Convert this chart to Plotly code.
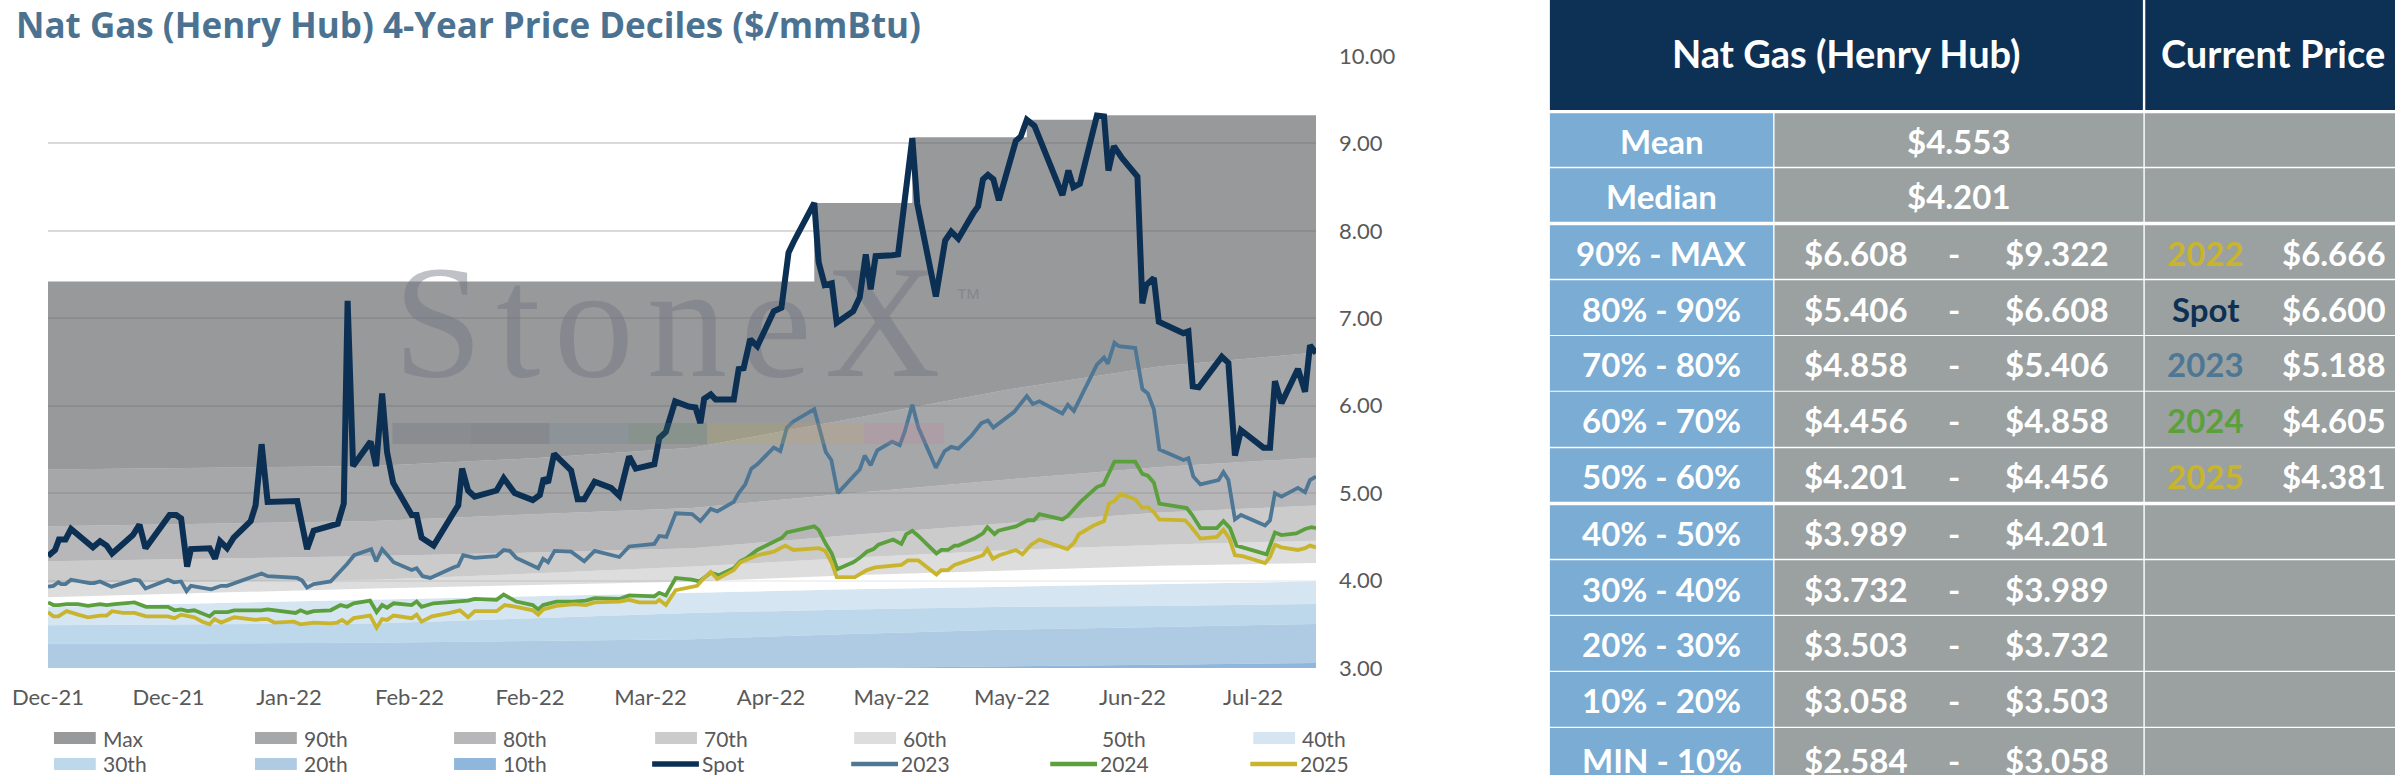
import pandas as pd
import plotly.graph_objects as go

# ---------------- DATA ----------------
BASE = pd.Timestamp("2021-12-01")

tick_days = [0, 22, 44, 66, 88, 110, 132, 154, 176, 198, 220]
tick_labels = ["Dec-21", "Dec-21", "Jan-22", "Feb-22", "Feb-22", "Mar-22",
               "Apr-22", "May-22", "May-22", "Jun-22", "Jul-22"]
end_day = 231.5

spot_days = [0.0, 1.3, 2.0, 3.2, 4.2, 8.2, 9.5, 10.7, 11.7, 15.5,
             16.7, 17.8, 22.2, 23.4, 24.3, 25.4, 26.1, 29.5, 30.5, 31.4,
             32.7, 33.9, 37.0, 37.9, 39.0, 40.1, 45.5, 47.3, 48.5, 51.6,
             52.9, 54.0, 54.7, 55.7, 58.9, 59.9, 61.0, 61.9, 63.0, 66.4,
             67.3, 68.2, 70.4, 74.0, 74.9, 75.6, 76.7, 77.9, 81.9, 83.2,
             85.2, 88.5, 89.8, 90.5, 91.3, 92.4, 95.5, 96.7, 97.9, 99.8,
             102.8, 104.3, 106.1, 107.3, 110.7, 111.6, 112.8, 114.5, 117.0, 118.2,
             119.1, 119.8, 121.0, 121.9, 125.2, 126.1, 127.0, 128.2, 129.5, 132.5,
             133.9, 135.2, 136.1, 139.9, 140.7, 141.8, 143.1, 144.0, 147.0, 148.2,
             149.3, 150.2, 151.1, 154.1, 155.2, 157.8, 158.7, 162.1, 163.8, 164.9,
             166.2, 168.9, 169.8, 170.7, 171.6, 172.6, 173.6, 176.7, 177.6, 178.7,
             180.1, 185.2, 186.3, 187.2, 188.4, 191.5, 192.8, 193.6, 194.6, 196.1,
             198.9, 199.8, 200.5, 201.9, 202.8, 207.3, 208.2, 209.0, 210.1, 214.3,
             215.5, 216.7, 217.8, 221.9, 223.1, 224.0, 225.2, 228.2, 229.5, 230.4,
             231.5]
spot_vals = [4.28, 4.35, 4.47, 4.47, 4.59, 4.38, 4.45, 4.40, 4.31, 4.52,
             4.64, 4.37, 4.75, 4.75, 4.71, 4.16, 4.36, 4.37, 4.25, 4.45,
             4.37, 4.49, 4.68, 4.86, 5.56, 4.90, 4.91, 4.36, 4.57, 4.62,
             4.65, 4.88, 7.20, 5.31, 5.59, 5.31, 6.14, 5.47, 5.12, 4.75,
             4.75, 4.49, 4.40, 4.77, 4.86, 5.28, 5.03, 4.96, 5.03, 5.17,
             5.00, 4.92, 4.98, 5.17, 5.12, 5.45, 5.26, 4.93, 4.93, 5.13,
             5.06, 4.97, 5.42, 5.28, 5.33, 5.63, 5.70, 6.05, 5.99, 5.98,
             5.80, 6.08, 6.13, 6.07, 6.07, 6.42, 6.43, 6.76, 6.68, 7.08,
             7.12, 7.75, 7.87, 8.32, 7.64, 7.38, 7.40, 6.95, 7.08, 7.24,
             7.73, 7.33, 7.71, 7.72, 7.73, 9.06, 8.31, 7.25, 7.89, 7.99,
             7.91, 8.20, 8.28, 8.59, 8.64, 8.59, 8.35, 9.03, 9.08, 9.27,
             9.20, 8.41, 8.69, 8.50, 8.54, 9.32, 9.31, 8.69, 8.97, 8.83,
             8.62, 7.17, 7.38, 7.46, 6.96, 6.83, 6.85, 6.22, 6.21, 6.56,
             6.49, 5.43, 5.72, 5.52, 5.52, 6.28, 6.03, 6.42, 6.16, 6.69,
             6.60]

y2023_days = [0.0, 1.0, 1.9, 2.4, 3.2, 4.2, 7.6, 8.4, 9.5, 11.6,
              15.8, 16.7, 17.8, 21.9, 23.0, 24.3, 25.3, 26.1, 29.8, 31.6,
              32.7, 37.9, 39.0, 40.1, 45.5, 46.4, 47.3, 48.5, 51.6, 54.6,
              55.9, 59.0, 59.9, 61.0, 63.1, 66.4, 67.3, 68.4, 69.8, 74.0,
              74.9, 75.8, 77.9, 81.9, 83.2, 84.3, 85.5, 89.5, 90.4, 91.3,
              92.5, 95.5, 97.9, 99.8, 104.3, 106.1, 107.9, 110.7, 111.6, 112.9,
              114.6, 117.6, 119.1, 121.0, 122.2, 125.2, 126.1, 127.3, 128.4, 129.5,
              132.5, 133.7, 134.9, 136.1, 139.9, 141.0, 142.0, 143.0, 144.2, 147.0,
              148.2, 149.1, 150.2, 151.4, 154.1, 155.5, 156.4, 157.8, 158.9, 162.1,
              163.7, 164.9, 166.2, 168.5, 170.4, 171.6, 172.6, 176.4, 178.7, 179.8,
              181.0, 185.2, 186.2, 187.3, 191.5, 192.8, 193.5, 194.7, 195.5, 198.5,
              199.8, 200.8, 201.9, 202.9, 207.3, 208.2, 209.1, 210.4, 213.7, 214.6,
              215.5, 216.7, 217.8, 222.2, 223.1, 224.0, 225.2, 228.2, 229.5, 230.4,
              231.5]
y2023_vals = [3.93, 3.94, 3.98, 3.96, 3.96, 4.01, 3.97, 3.97, 3.99, 3.93,
              4.01, 4.00, 3.91, 4.01, 3.98, 3.99, 3.88, 3.94, 3.90, 3.94,
              3.94, 4.06, 4.08, 4.05, 4.03, 4.00, 3.92, 3.96, 3.99, 4.19,
              4.29, 4.36, 4.22, 4.36, 4.21, 4.12, 4.14, 4.05, 4.03, 4.15,
              4.17, 4.29, 4.26, 4.28, 4.35, 4.34, 4.26, 4.14, 4.25, 4.21,
              4.34, 4.33, 4.22, 4.34, 4.27, 4.39, 4.40, 4.42, 4.51, 4.50,
              4.77, 4.76, 4.68, 4.82, 4.79, 4.90, 5.00, 5.10, 5.28, 5.33,
              5.52, 5.48, 5.75, 5.82, 5.96, 5.70, 5.47, 5.38, 5.00, 5.19,
              5.27, 5.43, 5.32, 5.49, 5.59, 5.55, 5.70, 6.01, 5.75, 5.29,
              5.48, 5.53, 5.51, 5.65, 5.80, 5.83, 5.75, 5.93, 6.11, 6.02,
              6.05, 5.91, 6.01, 5.94, 6.47, 6.55, 6.48, 6.72, 6.68, 6.66,
              6.19, 6.14, 5.96, 5.50, 5.38, 5.40, 5.19, 5.10, 5.15, 5.24,
              5.15, 4.70, 4.75, 4.63, 4.69, 5.00, 4.96, 5.06, 5.01, 5.15,
              5.19]

y2024_days = [0.0, 1.0, 1.9, 3.4, 5.5, 7.3, 9.5, 10.7, 12.2, 15.8,
              17.9, 21.9, 23.1, 24.3, 25.5, 26.7, 29.5, 30.4, 32.8, 34.0,
              38.9, 40.1, 45.2, 46.1, 47.3, 48.5, 51.6, 53.4, 54.6, 55.8,
              58.8, 60.0, 61.0, 61.9, 63.1, 66.4, 67.3, 68.2, 70.4, 74.0,
              76.7, 77.9, 81.9, 83.2, 85.5, 88.5, 89.5, 90.4, 92.8, 95.8,
              98.2, 99.8, 104.3, 106.1, 110.7, 111.6, 112.8, 114.6, 117.6, 118.9,
              119.8, 121.0, 122.5, 125.2, 126.4, 127.6, 129.5, 132.5, 134.0, 134.9,
              137.0, 139.9, 140.7, 142.0, 143.1, 144.1, 147.0, 148.2, 149.5, 150.7,
              151.6, 154.3, 155.8, 156.7, 157.8, 158.9, 162.2, 163.1, 164.3, 165.5,
              166.2, 169.1, 170.7, 171.5, 172.8, 173.5, 176.7, 178.9, 180.0, 181.0,
              185.2, 186.2, 188.5, 191.5, 192.7, 194.7, 198.5, 199.8, 200.8, 201.9,
              202.9, 207.9, 208.9, 210.4, 213.4, 214.6, 215.8, 217.0, 218.1, 222.5,
              224.0, 225.2, 227.9, 229.5, 230.7, 231.5]
y2024_vals = [3.75, 3.72, 3.72, 3.73, 3.73, 3.71, 3.73, 3.72, 3.73, 3.75,
              3.70, 3.70, 3.66, 3.67, 3.65, 3.66, 3.59, 3.64, 3.64, 3.66,
              3.66, 3.67, 3.63, 3.66, 3.63, 3.65, 3.66, 3.72, 3.70, 3.74,
              3.77, 3.64, 3.72, 3.69, 3.74, 3.72, 3.76, 3.70, 3.74, 3.76,
              3.77, 3.79, 3.78, 3.84, 3.76, 3.72, 3.67, 3.72, 3.76, 3.76,
              3.77, 3.80, 3.79, 3.83, 3.82, 3.86, 3.83, 4.03, 4.01, 3.99,
              4.03, 4.09, 4.06, 4.14, 4.22, 4.26, 4.35, 4.45, 4.49, 4.55,
              4.58, 4.62, 4.58, 4.42, 4.31, 4.13, 4.21, 4.26, 4.33, 4.36,
              4.41, 4.47, 4.42, 4.53, 4.57, 4.51, 4.31, 4.35, 4.35, 4.40,
              4.40, 4.48, 4.54, 4.61, 4.53, 4.57, 4.62, 4.69, 4.69, 4.76,
              4.70, 4.74, 4.90, 5.07, 5.10, 5.36, 5.36, 5.22, 5.20, 5.12,
              4.88, 4.83, 4.75, 4.60, 4.60, 4.68, 4.60, 4.40, 4.38, 4.30,
              4.55, 4.52, 4.54, 4.59, 4.61, 4.60]

y2025_days = [0.0, 1.0, 1.9, 3.4, 5.5, 7.3, 9.5, 10.7, 11.7, 13.7,
              15.8, 17.9, 21.9, 23.1, 24.3, 25.5, 26.7, 28.2, 29.5, 30.4,
              31.6, 34.0, 37.9, 38.9, 40.1, 41.3, 44.9, 46.1, 48.5, 51.6,
              52.8, 53.7, 54.6, 55.8, 58.8, 60.0, 61.0, 61.9, 63.1, 66.4,
              67.3, 68.2, 70.1, 73.4, 75.2, 76.7, 77.9, 81.9, 83.4, 85.5,
              88.5, 89.5, 90.4, 92.8, 96.1, 98.2, 99.8, 104.3, 106.1, 107.9,
              111.0, 111.6, 112.8, 114.6, 118.5, 119.8, 121.0, 122.2, 125.2, 126.4,
              127.6, 129.5, 132.5, 134.6, 136.1, 140.7, 141.9, 143.1, 144.0, 147.3,
              149.5, 151.0, 155.8, 157.0, 158.9, 162.2, 163.1, 164.3, 165.5, 169.1,
              170.7, 171.5, 172.5, 173.7, 176.7, 177.9, 179.5, 181.0, 186.1, 187.3,
              188.2, 190.9, 192.8, 193.7, 194.7, 195.8, 198.5, 199.8, 200.8, 201.9,
              202.9, 207.6, 208.5, 210.4, 213.4, 214.6, 215.7, 216.7, 218.1, 222.2,
              223.1, 224.0, 225.2, 228.2, 229.5, 230.4, 231.5]
y2025_vals = [3.64, 3.59, 3.59, 3.65, 3.61, 3.58, 3.60, 3.60, 3.65, 3.63,
              3.63, 3.59, 3.59, 3.57, 3.61, 3.59, 3.58, 3.53, 3.50, 3.56,
              3.52, 3.58, 3.55, 3.56, 3.56, 3.52, 3.53, 3.50, 3.52, 3.51,
              3.52, 3.55, 3.51, 3.57, 3.60, 3.46, 3.56, 3.55, 3.60, 3.57,
              3.61, 3.53, 3.59, 3.63, 3.66, 3.58, 3.65, 3.65, 3.72, 3.70,
              3.66, 3.61, 3.67, 3.71, 3.73, 3.72, 3.75, 3.76, 3.78, 3.75,
              3.75, 3.78, 3.72, 3.89, 3.94, 4.03, 4.10, 4.02, 4.12, 4.21,
              4.24, 4.29, 4.33, 4.40, 4.35, 4.37, 4.34, 4.20, 4.04, 4.04,
              4.12, 4.15, 4.18, 4.23, 4.23, 4.07, 4.12, 4.12, 4.18, 4.26,
              4.29, 4.36, 4.25, 4.29, 4.35, 4.30, 4.41, 4.47, 4.36, 4.43,
              4.53, 4.63, 4.68, 4.88, 4.91, 4.99, 4.93, 4.83, 4.84, 4.78,
              4.70, 4.69, 4.63, 4.48, 4.50, 4.58, 4.48, 4.29, 4.28, 4.20,
              4.27, 4.41, 4.38, 4.35, 4.37, 4.40, 4.38]

# rolling 4-year deciles (band tops)
decile_days = [0.0, 29.5, 59.5, 88.5, 117.6, 146.7, 175.8, 203.1, 231.5]
p_min = [2.50, 2.51, 2.52, 2.53, 2.55, 2.56, 2.57, 2.58, 2.584]
p10 = [2.92, 2.93, 2.95, 2.97, 2.98, 3.00, 3.02, 3.04, 3.058]
p20 = [3.28, 3.28, 3.29, 3.31, 3.33, 3.39, 3.44, 3.47, 3.503]
p30 = [3.49, 3.50, 3.51, 3.57, 3.63, 3.67, 3.70, 3.71, 3.732]
p40 = [3.70, 3.74, 3.78, 3.82, 3.86, 3.90, 3.93, 3.96, 3.989]
p50 = [3.81, 3.86, 3.91, 3.95, 3.99, 4.06, 4.12, 4.17, 4.201]
p60 = [3.97, 3.99, 4.01, 4.08, 4.16, 4.26, 4.35, 4.41, 4.456]
p70 = [4.22, 4.25, 4.28, 4.32, 4.37, 4.52, 4.66, 4.78, 4.858]
p80 = [4.62, 4.65, 4.68, 4.76, 4.83, 5.00, 5.16, 5.30, 5.406]
p90 = [5.27, 5.29, 5.31, 5.40, 5.52, 5.85, 6.19, 6.45, 6.608]
max_days = [0.0, 139.9, 157.8, 178.7, 191.5, 231.5]
p_max = [7.42, 8.32, 9.07, 9.27, 9.322, 9.322]

# table
stat_labels = ["Mean", "Median"]
stat_values = [4.553, 4.201]
range_labels = ["90% - MAX", "80% - 90%", "70% - 80%", "60% - 70%", "50% - 60%",
                "40% - 50%", "30% - 40%", "20% - 30%", "10% - 20%", "MIN - 10%"]
range_low = [6.608, 5.406, 4.858, 4.456, 4.201, 3.989, 3.732, 3.503, 3.058, 2.584]
range_high = [9.322, 6.608, 5.406, 4.858, 4.456, 4.201, 3.989, 3.732, 3.503, 3.058]
current_labels = ["2022", "Spot", "2023", "2024", "2025"]
current_prices = [6.666, 6.600, 5.188, 4.605, 4.381]

# ---------------- STYLE ----------------
W, H = 2395, 775
L, R_PX, T, B_PX = 42, 1316, 56, 668
PW, PH = R_PX - L, B_PX - T
FONT = "Lato"
TXT = "#595959"
NAVY = "#0c3154"
C_SPOT, C_2023, C_2024, C_2025 = "#0b3054", "#4d7795", "#5ba03c", "#c8b52d"
C_YEAR = {"2022": "#c8b52d", "Spot": NAVY, "2023": "#4d7795", "2024": "#5ba03c", "2025": "#c8b52d"}

band_names = ["10th", "20th", "30th", "40th", "50th", "60th", "70th", "80th", "90th", "Max"]
band_solid = ["#8fb6db", "#aecbe3", "#bdd7eb", "#d6e5f2", "#ffffff",
              "#dddddd", "#cbcbcb", "#b7b7b9", "#a6a7a9", "#98999b"]
ALPHA = 0.65


def translucent(hexc):
    rgb = [int(hexc[i:i + 2], 16) for i in (1, 3, 5)]
    c = [max(0, min(255, round((v - (1 - ALPHA) * 255) / ALPHA))) for v in rgb]
    return f"rgba({c[0]},{c[1]},{c[2]},{ALPHA})"


def dts(days):
    return [BASE + pd.Timedelta(days=float(d)) for d in days]


def px(x):
    return (x - L) / PW


def py(y):
    return (B_PX - y) / PH


fig = go.Figure()

# base (min) trace
fig.add_trace(go.Scatter(x=dts(decile_days), y=p_min, mode="lines",
                         line=dict(width=0), showlegend=False, hoverinfo="skip"))
band_series = [p10, p20, p30, p40, p50, p60, p70, p80, p90, p_max]
for name, vals, col in zip(band_names, band_series, band_solid):
    is_max = name == "Max"
    fig.add_trace(go.Scatter(
        x=dts(max_days if is_max else decile_days), y=vals, name=name,
        mode="lines", line=dict(width=0, shape="hv" if is_max else "linear"),
        fill="tonexty", fillcolor=translucent(col), showlegend=False))

# watermark (behind the lines)
WM = "rgba(110,118,128,0.45)"
fig.add_trace(go.Scatter(x=dts([113.0]), y=[6.80], mode="text",
                         text=["S\u200at\u200ao\u200an\u200ae\u200aX"],
                         textfont=dict(family="Liberation Serif", size=160, color=WM),
                         textposition="middle center", showlegend=False, hoverinfo="skip"))
fig.add_trace(go.Scatter(x=dts([168.0]), y=[7.20], mode="text", text=["\u2122"],
                         textfont=dict(family="Liberation Sans", size=26, color=WM),
                         textposition="middle center", showlegend=False, hoverinfo="skip"))

for nm, d, v, c, w in [("Spot", spot_days, spot_vals, C_SPOT, 6.0),
                       ("2023", y2023_days, y2023_vals, C_2023, 3.8),
                       ("2024", y2024_days, y2024_vals, C_2024, 3.8),
                       ("2025", y2025_days, y2025_vals, C_2025, 3.8)]:
    fig.add_trace(go.Scatter(x=dts(d), y=v, name=nm, mode="lines",
                             line=dict(color=c, width=w), showlegend=False))

shapes = []
annotations = []

# watermark colour stripe
stripe_cols = ["#52606e", "#434e5f", "#618091", "#527b5a", "#c0ad46", "#cf9e5a", "#cf7b96"]
sx = [388, 467, 546, 625, 704, 783, 862, 942]
for i, c in enumerate(stripe_cols):
    shapes.append(dict(type="rect", xref="paper", yref="paper", x0=px(sx[i]), x1=px(sx[i + 1]),
                       y0=py(444), y1=py(423), fillcolor=c, opacity=0.2, line=dict(width=0),
                       layer="above"))

# title
annotations.append(dict(xref="paper", yref="paper", x=px(8), y=py(25), xanchor="left",
                        yanchor="middle", showarrow=False,
                        text="Nat Gas (Henry Hub) 4-Year Price Deciles ($/mmBtu)",
                        font=dict(family="Open Sans", size=35, color="#4b7391", weight="bold")))

# custom legend
leg_cols = [48, 250, 450, 652, 852, 1052, 1253]
leg_rows = [738, 764]
band_leg = [(n, "band", c) for n, c in zip(band_names[::-1], band_solid[::-1])]
leg_items = band_leg + [("Spot", "line", C_SPOT), ("2023", "line", C_2023),
                        ("2024", "line", C_2024), ("2025", "line", C_2025)]
for k, (name, kind, col) in enumerate(leg_items):
    cx = leg_cols[k % 7]
    cy = leg_rows[k // 7]
    if kind == "band":
        if col.lower() != "#ffffff":
            shapes.append(dict(type="rect", xref="paper", yref="paper", x0=px(cx), x1=px(cx + 42),
                               y0=py(cy + 6), y1=py(cy - 6), fillcolor=col, line=dict(width=0)))
        tx = cx + 47
    else:
        shapes.append(dict(type="line", xref="paper", yref="paper", x0=px(cx - 3), x1=px(cx + 44),
                           y0=py(cy), y1=py(cy), line=dict(color=col, width=5.5 if name == "Spot" else 4.5)))
        tx = cx + 45
    annotations.append(dict(xref="paper", yref="paper", x=px(tx), y=py(cy), xanchor="left",
                            yanchor="middle", showarrow=False, text=name,
                            font=dict(family=FONT, size=21, color=TXT)))

# table
TL, C1, C2, TR = 1551, 1776, 2148, 2420
BLUE_CELL, GRAY_CELL = "#7aacd4", "#9ba1a0"


def rect(x0, x1, y0, y1, col):
    shapes.append(dict(type="rect", xref="paper", yref="paper", x0=px(x0), x1=px(x1),
                       y0=py(y1), y1=py(y0), fillcolor=col, line=dict(width=0), layer="above"))


def text(x, y, s, col="white", size=33, anchor="center", weight="bold"):
    annotations.append(dict(xref="paper", yref="paper", x=px(x), y=py(y), xanchor=anchor,
                            yanchor="middle", showarrow=False, text=s,
                            font=dict(family=FONT, size=size, color=col, weight=weight)))


rect(TL, C2 - 1.2, 0, 110, NAVY)
rect(C2 + 1.2, TR, 0, 110, NAVY)
text((TL + C2) / 2, 53, "Nat Gas (Henry Hub)", size=38)
text(2163, 53, "Current Price", size=38, anchor="left")

row_tops = [113.3, 168.3, 225.3, 280.3, 336.0, 391.7, 448.3, 505.3, 560.3, 616.0, 672.0, 728.0]
row_bots = [166.7, 221.7, 278.7, 335.0, 390.7, 446.7, 501.7, 558.7, 614.7, 670.7, 726.7, 790.0]
labels_all = stat_labels + range_labels
for i, lab in enumerate(labels_all):
    y0, y1 = row_tops[i], row_bots[i]
    yc = (y0 + y1) / 2 + 1
    rect(TL, C1 - 0.7, y0, y1, BLUE_CELL)
    rect(C1 + 0.7, C2 - 0.7, y0, y1, GRAY_CELL)
    rect(C2 + 0.7, TR, y0, y1, GRAY_CELL)
    text((TL + C1) / 2, yc, lab)
    if i < 2:
        text(1962, yc, f"${stat_values[i]:.3f}")
    else:
        j = i - 2
        text(1859, yc, f"${range_low[j]:.3f}")
        text(1957, yc, "-")
        text(2061, yc, f"${range_high[j]:.3f}")
        if j < len(current_labels):
            text(2210, yc, current_labels[j], col=C_YEAR[current_labels[j]])
            text(2339, yc, f"${current_prices[j]:.3f}")

fig.update_layout(
    width=W, height=H, margin=dict(l=L, r=W - R_PX, t=T, b=H - B_PX, pad=0),
    paper_bgcolor="white", plot_bgcolor="white", showlegend=False,
    shapes=shapes, annotations=annotations,
    xaxis=dict(type="date", range=[BASE, BASE + pd.Timedelta(days=end_day)],
               tickvals=dts(tick_days), ticktext=tick_labels, showgrid=False,
               zeroline=False, showline=False, ticks="", ticklabelstandoff=14,
               tickfont=dict(family=FONT, size=22, color=TXT)),
    yaxis=dict(range=[3, 10], side="right", dtick=1, tick0=3, tickformat=".2f",
               gridcolor="#d9d9d9", gridwidth=2, zeroline=False, showline=False,
               ticks="", ticklabelstandoff=22,
               tickfont=dict(family=FONT, size=22, color=TXT)),
)

fig.write_html("out.html", config={"displayModeBar": False},
               post_script="document.body.style.margin='0px';document.body.style.overflow='hidden';")
